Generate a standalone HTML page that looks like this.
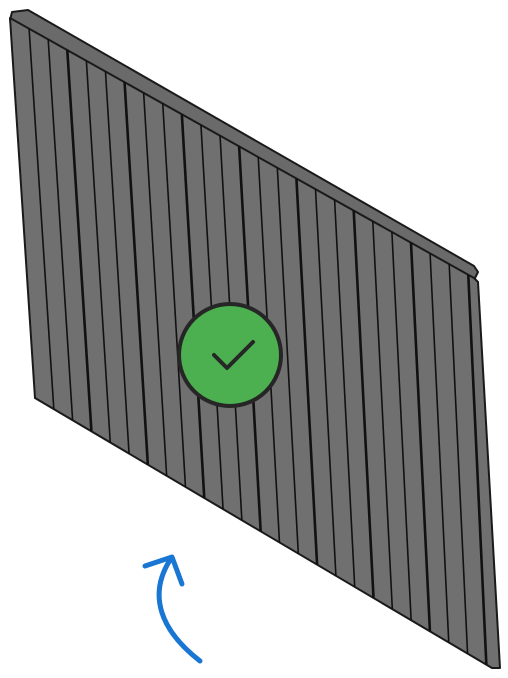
<!DOCTYPE html>
<html><head><meta charset="utf-8"><style>
html,body{margin:0;padding:0;background:#fff;width:508px;height:678px;overflow:hidden}
svg{display:block}
</style></head><body>
<svg id="s" width="508" height="678" viewBox="0 0 508 678" xmlns="http://www.w3.org/2000/svg">
  <polygon points="12,12 28,10 474,266 478,272 474,280 10,20" fill="#6a6a6a" stroke="#1a1a1a" stroke-width="2" stroke-linejoin="round"/>
  <polygon points="10,18 474,278 478,282 500,668 492,668 35,398" fill="#707070" stroke="#1a1a1a" stroke-width="2" stroke-linejoin="round"/>
  <g id="slats"></g>
  <circle cx="230" cy="355" r="51" fill="#4caf50" stroke="#262626" stroke-width="4"/>
  <polyline points="214,355 227,368 253,342" fill="none" stroke="#262626" stroke-width="4" stroke-linecap="round" stroke-linejoin="round"/>
  <path d="M200,661 C160,630 148,595 170,560" fill="none" stroke="#1976d2" stroke-width="5" stroke-linecap="round"/>
  <polyline points="145,566 172,557 182,584" fill="none" stroke="#1976d2" stroke-width="5" stroke-linecap="round" stroke-linejoin="round"/>
</svg>
<script>
var slatCount = 24;
var g = document.getElementById('slats');
var TL=[10,18], TR=[474,278], BL=[35,398], BR=[492,668];
for (var i=1;i<=slatCount;i++){
  var t=i/(slatCount+0.3);
  var x1=TL[0]+(TR[0]-TL[0])*t, y1=TL[1]+(TR[1]-TL[1])*t;
  var x2=BL[0]+(BR[0]-BL[0])*t, y2=BL[1]+(BR[1]-BL[1])*t;
  var l=document.createElementNS('http://www.w3.org/2000/svg','line');
  
  
  l.setAttribute('x1',x1);l.setAttribute('y1',y1);l.setAttribute('x2',x2);l.setAttribute('y2',y2);
  l.setAttribute('stroke','#111');
  l.setAttribute('stroke-width', i%3===0 ? 2.6 : 1.6);
  g.appendChild(l);
}
</script>
</body></html>
